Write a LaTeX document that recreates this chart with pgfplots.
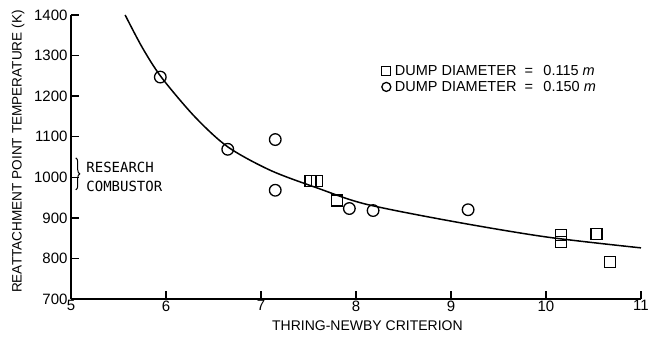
\documentclass[border=0pt]{standalone}
\usepackage{fontspec}
\setmainfont{Liberation Sans}
\newfontfamily\monofont{DejaVu Sans Mono}
\usepackage{pgfplots}
\pgfplotsset{compat=1.18}
\usetikzlibrary{decorations.pathreplacing}
\begin{document}
\begin{tikzpicture}
\begin{axis}[
 scale only axis, width=570pt, height=284pt,
 xmin=5, xmax=11, ymin=700, ymax=1400,
 axis lines*=left,
 axis line style={line width=1.4pt},
 xtick={5,6,...,11}, ytick={700,800,...,1400},
 tick align=inside, major tick length=8pt,
 tick style={line width=1.4pt, black},
 /pgf/number format/assume math mode=true,
 /pgf/number format/1000 sep={},
 ticklabel style={font=\fontsize{15}{17}\selectfont},
 xticklabel style={yshift=2pt},
 xlabel={THRING-NEWBY CRITERION},
 ylabel={REATTACHMENT POINT TEMPERATURE (K)},
 label style={font=\fontsize{14}{16}\selectfont},
 xlabel style={at={(axis description cs:0.52,-0.095)}, anchor=center},
 ylabel style={at={(axis description cs:-0.093,0.519)}, anchor=center, font=\fontsize{13.6}{16}\selectfont},
 clip=false,
 legend style={draw=none, fill=none, at={(axis description cs:0.545,0.83)}, anchor=north west,
   font=\fontsize{14.5}{16}\selectfont, inner sep=0pt, row sep=0pt},
 legend cell align=left,
 legend image code/.code={\draw[#1, mark size=4.5pt] plot coordinates {(0pt,0pt)};},
]
\addplot[smooth, line width=1.5pt, no marks, forget plot] coordinates {
 (5.57,1400) (5.75,1320) (5.95,1247) (6.3,1150) (6.65,1075)
 (7.1,1017) (7.6,973) (8.1,934) (9.0,892) (10.0,853) (11.0,826)};
\addplot[only marks, mark=square, mark size=5.5pt, line width=1.3pt, black] coordinates {
 (7.52,991) (7.59,991) (7.8,943) (10.16,858) (10.16,840) (10.53,861) (10.67,792)};
\addlegendentry{\hspace{2pt}DUMP DIAMETER \ =\ \, 0.115 \textit{m}}
\addplot[only marks, mark=o, mark size=5.8pt, line width=1.3pt, black] coordinates {
 (5.94,1247) (6.65,1069) (7.15,1093) (7.15,968) (7.93,923) (8.18,918) (9.18,920)};
\addlegendentry{\hspace{2pt}DUMP DIAMETER \ =\ \, 0.150 \textit{m}}
\draw[decorate, decoration={brace, amplitude=4pt}, line width=1pt] (axis cs:5.05,1048) -- (axis cs:5.05,969);
\node[anchor=west, font=\monofont\fontsize{14}{18.5}\selectfont, align=left, inner sep=0pt] at (axis cs:5.16,1001) {RESEARCH\\COMBUSTOR};
\end{axis}
\path (current axis.south west) ++(-71pt,-40pt) rectangle ++(654pt,339pt);
\end{tikzpicture}
\end{document}
